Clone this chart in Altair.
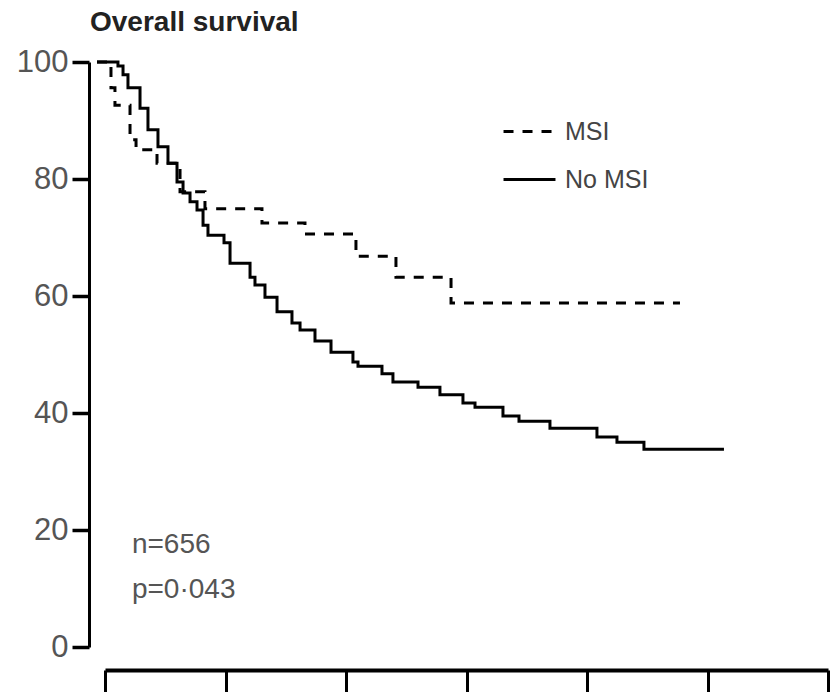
import altair as alt
import pandas as pd

# Kaplan-Meier curves (time in years, survival %)
years_msi = [0, 0.116, 0.149, 0.274, 0.324, 0.498, 0.689, 0.896, 1.369, 1.726,
             2.149, 2.481, 2.938, 4.838]
surv_msi = [100, 95.6, 92.6, 86.7, 85.0, 82.7, 77.8, 74.9, 72.5, 70.6,
            66.8, 63.2, 58.8, 58.8]

years_no_msi = [0, 0.174, 0.216, 0.257, 0.357, 0.423, 0.506, 0.589, 0.664, 0.714,
                0.772, 0.830, 0.880, 0.921, 1.054, 1.104, 1.270, 1.311, 1.394, 1.494,
                1.618, 1.685, 1.809, 1.942, 2.124, 2.166, 2.365, 2.456, 2.664, 2.846,
                3.037, 3.137, 3.369, 3.502, 3.759, 4.149, 4.315, 4.539, 5.203]
surv_no_msi = [100, 99.3, 97.8, 95.6, 92.1, 88.4, 85.5, 82.7, 79.5, 77.6,
               76.1, 74.7, 72.1, 70.4, 69.1, 65.6, 63.2, 61.9, 59.8, 57.3,
               55.4, 54.2, 52.3, 50.4, 48.7, 48.0, 46.7, 45.3, 44.4, 43.1,
               41.7, 41.0, 39.5, 38.6, 37.4, 35.9, 35.0, 33.8, 33.8]

groups = ["MSI", "No MSI"]
y_ticks = [0, 20, 40, 60, 80, 100]
x_ticks = [0, 1, 2, 3, 4, 5, 6]

notes = ["n=656", "p=0\u00b7043"]
note_x = [0.29, 0.29]
note_y = [16.1, 8.4]

FONT = "Liberation Sans"

df = pd.concat([
    pd.DataFrame({"t": years_msi, "s": surv_msi, "group": groups[0]}),
    pd.DataFrame({"t": years_no_msi, "s": surv_no_msi, "group": groups[1]}),
])
notes_df = pd.DataFrame({"t": note_x, "s": note_y, "label": notes})

x_scale = alt.Scale(domain=[0, 6], nice=False, zero=False)
y_scale = alt.Scale(domain=[0, 100], nice=False)

lines = alt.Chart(df).mark_line(
    color="black", strokeWidth=3, interpolate="step-after", clip=False
).encode(
    x=alt.X("t:Q", scale=x_scale,
            axis=alt.Axis(values=x_ticks, labels=False, title=None, grid=False,
                          domainColor="black", domainWidth=4, tickColor="black",
                          tickWidth=3, tickSize=25, offset=15, translate=8.5)),
    y=alt.Y("s:Q", scale=y_scale,
            axis=alt.Axis(values=y_ticks, title=None, grid=False,
                          domainColor="black", domainWidth=3, tickColor="black",
                          tickWidth=3.5, tickSize=17, offset=8, labelPadding=4,
                          labelFont=FONT, labelFontSize=31,
                          labelColor="#555555")),
    strokeDash=alt.StrokeDash(
        "group:N",
        scale=alt.Scale(domain=groups, range=[[10, 9], [1, 0]]),
        legend=alt.Legend(
            title=None, orient="none", legendX=405, legendY=42, padding=0,
            symbolType="stroke", symbolStrokeWidth=3, symbolSize=2700,
            symbolStrokeColor="black", labelFont=FONT,
            labelFontSize=25, labelColor="#444444", labelOffset=8,
            rowPadding=7,
        ),
    ),
    detail="group:N",
)

text = alt.Chart(notes_df).mark_text(
    align="left", baseline="alphabetic", font=FONT,
    fontSize=28, color="#555555"
).encode(
    x=alt.X("t:Q", scale=x_scale),
    y=alt.Y("s:Q", scale=y_scale),
    text="label:N",
)

chart = alt.layer(lines, text).properties(
    width=723,
    height=585,
    background="white",
    autosize=alt.AutoSizeParams(type="none"),
    padding={"left": 97, "top": 62, "right": 11, "bottom": 45},
    title=alt.TitleParams(
        "Overall survival", anchor="start", frame="group",
        font=FONT, fontWeight="bold", fontSize=28, color="#222222",
        dx=-7, offset=0, dy=-9, baseline="top",
    ),
).configure_view(strokeWidth=0)

chart.save("out.html", embed_options={"renderer": "svg", "actions": False})
